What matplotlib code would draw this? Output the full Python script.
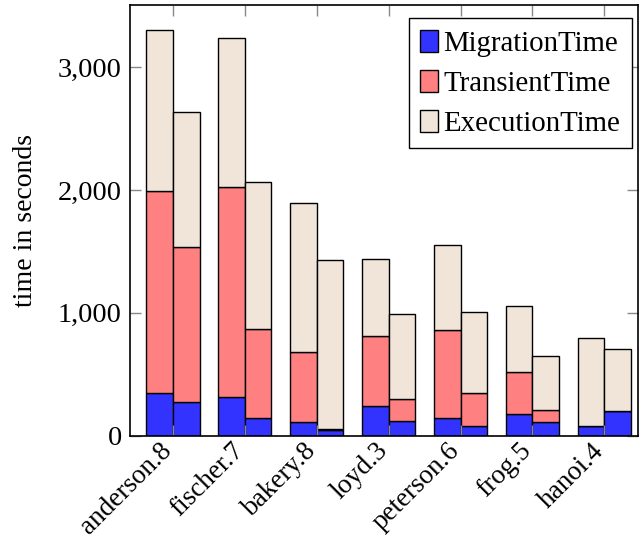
import numpy as np
import matplotlib
matplotlib.use("Agg")
import matplotlib.pyplot as plt
from matplotlib.patches import Patch
from matplotlib.ticker import FuncFormatter

# benchmark models, two runs per model (left / right bar)
models = ["anderson.8", "fischer.7", "bakery.8", "loyd.3",
          "peterson.6", "frog.5", "hanoi.4"]

# seconds per phase, first run
migration_a = [345, 313, 114, 244, 141, 179, 81]
transient_a = [1650, 1710, 568, 565, 720, 337, 0]
execution_a = [1306, 1218, 1211, 632, 689, 543, 717]

# seconds per phase, second run
migration_b = [272, 147, 48, 117, 79, 109, 204]
transient_b = [1265, 719, 10, 179, 266, 98, 0]
execution_b = [1101, 1200, 1375, 695, 665, 439, 500]

_BLUE = "#3333ff"
_RED = "#ff8080"
_BEIGE = "#f0e5d8"

plt.rcParams["font.family"] = ["Liberation Serif", "DejaVu Serif"]
plt.rcParams["font.size"] = 20.5

fig = plt.figure(figsize=(6.39, 5.44), dpi=100)
ax = fig.add_axes([130 / 639, 1 - 435.7 / 544, 508 / 639, 430.4 / 544])

x = np.arange(len(models))
w = 0.369
kw = dict(width=w, edgecolor="black", linewidth=1.0)

for off, mig, tra, exe in [(-w / 2, migration_a, transient_a, execution_a),
                           (w / 2, migration_b, transient_b, execution_b)]:
    mig = np.array(mig, float)
    tra = np.array(tra, float)
    exe = np.array(exe, float)
    ax.bar(x + off, mig, color=_BLUE, **kw)
    ax.bar(x + off, tra, bottom=mig, color=_RED, **kw)
    ax.bar(x + off, exe, bottom=mig + tra, color=_BEIGE, **kw)

ax.set_xlim(-0.598, 6.469)
ax.set_ylim(0, 3505)
ax.set_yticks([0, 1000, 2000, 3000])
ax.yaxis.set_major_formatter(FuncFormatter(lambda v, p: f"{v:,.0f}"))
ax.set_xticks(x)
# labels hang from the end of their baseline, just under the tick
ax.set_xticklabels(models, rotation=45, ha="right", va="baseline",
                   rotation_mode="anchor", fontsize=19.5)
ax.set_ylabel("time in seconds", fontsize=20, labelpad=14)

ax.tick_params(direction="in", length=8, width=1, color="#888888",
               top=True, right=True)
ax.tick_params(axis="y", pad=6)
ax.tick_params(axis="x", pad=11.5)
for s in ax.spines.values():
    s.set_linewidth(1.2)

handles = [Patch(facecolor=_BLUE, edgecolor="black", label="MigrationTime"),
           Patch(facecolor=_RED, edgecolor="black", label="TransientTime"),
           Patch(facecolor=_BEIGE, edgecolor="black", label="ExecutionTime")]
leg = ax.legend(handles=handles, loc="upper right", fontsize=20.8,
                bbox_to_anchor=(0.988, 0.9705), borderaxespad=0,
                fancybox=False, framealpha=1, edgecolor="black",
                handlelength=0.6, handleheight=0.8, handletextpad=0.2,
                labelspacing=0.45, borderpad=0.4)
leg.get_frame().set_linewidth(1.0)

fig.savefig("out.png", dpi=100)
